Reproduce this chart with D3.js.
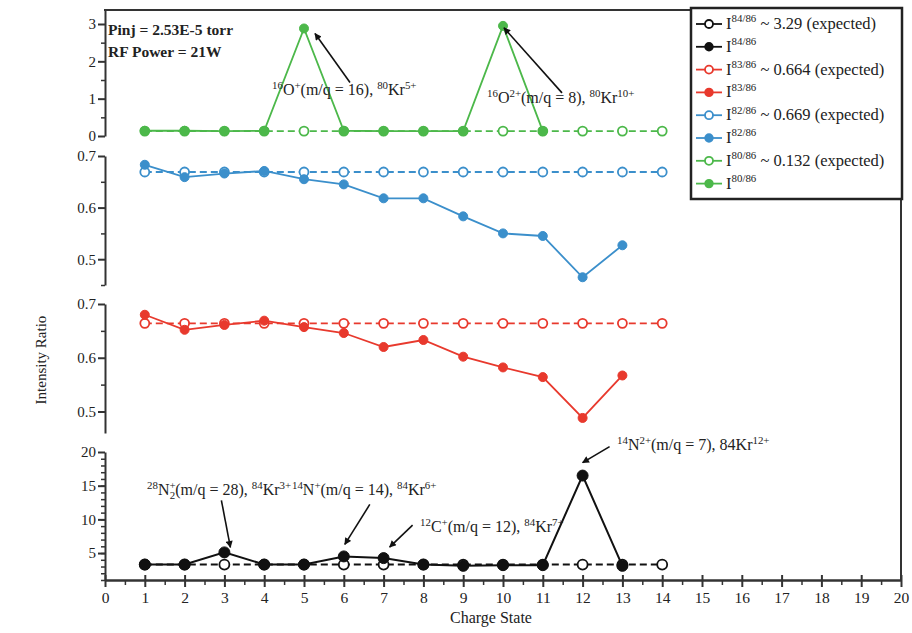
<!DOCTYPE html>
<html>
<head>
<meta charset="utf-8">
<script src="https://cdn.jsdelivr.net/npm/d3@7/dist/d3.min.js"></script>
<style>
  body { margin: 0; background: #fff; }
  svg text { font-family: "Liberation Serif", "Times New Roman", serif; fill: #222; }
</style>
</head>
<body>
<div id="chart"></div>
<script>
// charge states
const chargeExp = [1, 2, 3, 4, 5, 6, 7, 8, 9, 10, 11, 12, 13, 14];
const chargeMeas = [1, 2, 3, 4, 5, 6, 7, 8, 9, 10, 11, 12, 13];
const chargeGreen = [1, 2, 3, 4, 5, 6, 7, 8, 9, 10, 11];

// measured intensity ratios
const i8486 = [3.3, 3.3, 5.1, 3.3, 3.3, 4.5, 4.25, 3.3, 3.1, 3.2, 3.2, 16.5, 3.1];
const i8386 = [0.680, 0.652, 0.661, 0.669, 0.657, 0.646, 0.620, 0.633, 0.602, 0.582, 0.564, 0.488, 0.567];
const i8286 = [0.683, 0.659, 0.666, 0.671, 0.655, 0.645, 0.618, 0.618, 0.583, 0.550, 0.545, 0.465, 0.527];
const i8086 = [0.14, 0.14, 0.13, 0.14, 2.88, 0.14, 0.13, 0.13, 0.13, 2.95, 0.13];

// expected ratios
const exp8486 = 3.29;
const exp8386 = 0.664;
const exp8286 = 0.669;
const exp8086 = 0.132;

const xTicks = d3.range(0, 21);

const black = '#111', red = '#e8392d', blue = '#3b8fcb', green = '#4cb84a';

const svg = d3.select('#chart').append('svg')
  .attr('width', 912)
  .attr('height', 633);

svg.append('defs').append('marker')
  .attr('id', 'arrow')
  .attr('viewBox', '0 0 10 10')
  .attr('refX', 9).attr('refY', 5)
  .attr('markerWidth', 8).attr('markerHeight', 7)
  .attr('markerUnits', 'userSpaceOnUse')
  .attr('orient', 'auto')
  .append('path')
    .attr('d', 'M0,0L10,5L0,10z')
    .attr('fill', '#111');

const x = d3.scaleLinear().domain([0, 20]).range([105, 901]);

const panels = [
  { name: 'green', y: d3.scaleLinear().domain([0, 3.375]).range([136, 10]),
    major: [0, 1, 2, 3], minor: [0.5, 1.5, 2.5], fmt: d3.format('d') },
  { name: 'blue', y: d3.scaleLinear().domain([0.45, 0.7]).range([285, 156]),
    major: [0.5, 0.6, 0.7], minor: [0.45, 0.55, 0.65], fmt: d3.format('.1f') },
  { name: 'red', y: d3.scaleLinear().domain([0.46, 0.7]).range([433, 304]),
    major: [0.5, 0.6, 0.7], minor: [0.55, 0.65], fmt: d3.format('.1f') },
  { name: 'black', y: d3.scaleLinear().domain([1, 20]).range([580, 452]),
    major: [5, 10, 15, 20], minor: d3.range(1, 20), fmt: d3.format('d') }
];

// y axes
panels.forEach(p => {
  const gMinor = svg.append('g').attr('transform', `translate(${x(0)},0)`)
    .call(d3.axisLeft(p.y).tickValues(p.minor).tickSize(4).tickSizeOuter(0).tickFormat(''));
  gMinor.select('.domain').attr('stroke', '#333').attr('stroke-width', 2);
  gMinor.selectAll('.tick line').attr('stroke', '#333').attr('stroke-width', 1.5);

  const g = svg.append('g').attr('transform', `translate(${x(0)},0)`)
    .call(d3.axisLeft(p.y).tickValues(p.major).tickSize(7).tickSizeOuter(0).tickFormat(p.fmt));
  g.select('.domain').remove();
  g.selectAll('.tick line').attr('stroke', '#333').attr('stroke-width', 2);
  g.selectAll('.tick text')
    .attr('x', -9)
    .style('font-size', '15px')
    .style('font-family', '"Liberation Serif", serif')
    .attr('fill', '#333');
});

const yG = panels[0].y, yB = panels[1].y, yR = panels[2].y, yK = panels[3].y;

// frame: top and right
svg.append('line')
  .attr('x1', x(0) - 1).attr('x2', x(20) + 1)
  .attr('y1', yG.range()[1]).attr('y2', yG.range()[1])
  .attr('stroke', '#333').attr('stroke-width', 2);
svg.append('line')
  .attr('x1', x(20)).attr('x2', x(20))
  .attr('y1', yG.range()[1]).attr('y2', yK.range()[0])
  .attr('stroke', '#333').attr('stroke-width', 2);

// x axis
const xMinor = svg.append('g').attr('transform', `translate(0,${yK.range()[0]})`)
  .call(d3.axisBottom(x).tickValues(d3.range(0.5, 20, 1)).tickSize(5).tickSizeOuter(0).tickFormat(''));
xMinor.select('.domain').attr('stroke', '#333').attr('stroke-width', 2.5);
xMinor.selectAll('.tick line').attr('stroke', '#333').attr('stroke-width', 1.5);

const xAxis = svg.append('g').attr('transform', `translate(0,${yK.range()[0]})`)
  .call(d3.axisBottom(x).tickValues(xTicks).tickSize(7).tickSizeOuter(0).tickFormat(d3.format('d')));
xAxis.select('.domain').remove();
xAxis.selectAll('.tick line').attr('y1', -5).attr('stroke', '#333').attr('stroke-width', 2);
xAxis.selectAll('.tick text')
  .attr('y', 12)
  .style('font-size', '15.5px')
  .style('font-family', '"Liberation Serif", serif')
  .attr('fill', '#333');

// axis titles
svg.append('text')
  .attr('x', x(10) - 12).attr('y', 623)
  .attr('text-anchor', 'middle')
  .style('font-size', '16px')
  .text('Charge State');

svg.append('text')
  .attr('transform', 'translate(46,360) rotate(-90)')
  .attr('text-anchor', 'middle')
  .style('font-size', '15px')
  .text('Intensity Ratio');

// series
function drawSeries(xs, ys, y, color, opts) {
  const pts = xs.map((c, i) => [c, ys[i]]);
  const line = d3.line().x(d => x(d[0])).y(d => y(d[1]));
  svg.append('path')
    .datum(pts)
    .attr('d', line)
    .attr('fill', 'none')
    .attr('stroke', color)
    .attr('stroke-width', opts.width || 1.8)
    .attr('stroke-dasharray', opts.open ? '7,4' : null);
  svg.append('g').selectAll('circle')
    .data(pts)
    .join('circle')
      .attr('cx', d => x(d[0]))
      .attr('cy', d => y(d[1]))
      .attr('r', opts.r)
      .attr('fill', opts.open ? '#fff' : color)
      .attr('stroke', color)
      .attr('stroke-width', opts.open ? 1.8 : 1);
}

drawSeries(chargeExp, chargeExp.map(() => exp8086), yG, green, { open: true, r: 4.5 });
drawSeries(chargeGreen, i8086, yG, green, { r: 4.5 });
drawSeries(chargeExp, chargeExp.map(() => exp8286), yB, blue, { open: true, r: 4.5 });
drawSeries(chargeMeas, i8286, yB, blue, { r: 4.5 });
drawSeries(chargeExp, chargeExp.map(() => exp8386), yR, red, { open: true, r: 4.5 });
drawSeries(chargeMeas, i8386, yR, red, { r: 4.5 });
drawSeries(chargeExp, chargeExp.map(() => exp8486), yK, black, { open: true, r: 5, width: 2 });
drawSeries(chargeMeas, i8486, yK, black, { r: 5.5, width: 2 });

// rich text with super/subscripts
function richText(px, py, parts, size, weight, supScale) {
  const ss = supScale || 0.64;
  const t = svg.append('text')
    .attr('x', px).attr('y', py)
    .style('font-size', size + 'px')
    .style('font-weight', weight || 'normal');
  let shift = 0;
  const add = (txt, s, fs, dx) => {
    const ts = t.append('tspan').attr('dy', s - shift).style('font-size', fs + 'px').text(txt);
    if (dx) ts.attr('dx', dx);
    shift = s;
  };
  parts.forEach(p => {
    if (typeof p === 'string') add(p, 0, size);
    else if (p.sup) add(p.sup, -size * 0.4, size * ss);
    else if (p.sub) add(p.sub, size * 0.25, size * ss);
    else if (p.supsub) {
      add(p.supsub[0], -size * 0.4, size * ss);
      add(p.supsub[1], size * 0.25, size * ss, -size * 0.36);
    }
  });
  if (shift !== 0) t.append('tspan').attr('dy', -shift).text('');
  return t;
}

richText(108, 35, ['Pinj = 2.53E-5 torr'], 15.5, 'bold');
richText(108, 57, ['RF Power = 21W'], 15.5, 'bold');

// annotations: arrow head anchored to data point, tail as pixel offset
const notes = [
  { y: yG, cx: 5, cy: i8086[4], hx: 11, hy: 5, tx: 35, ty: 49,
    label: [{ sup: '16' }, 'O', { sup: '+' }, '(m/q = 16), ', { sup: '80' }, 'Kr', { sup: '5+' }],
    lx: 272, ly: 95 },
  { y: yG, cx: 10, cy: i8086[9], hx: 1, hy: 2, tx: 58, ty: 65,
    label: [{ sup: '16' }, 'O', { sup: '2+' }, '(m/q = 8), ', { sup: '80' }, 'Kr', { sup: '10+' }],
    lx: 487, ly: 103 },
  { y: yK, cx: 3, cy: i8486[2], hx: 6, hy: -5, tx: -9, ty: -47,
    label: [{ sup: '28' }, 'N', { supsub: ['+', '2'] }, '(m/q = 28), ', { sup: '84' }, 'Kr', { sup: '3+' }],
    lx: 147, ly: 495 },
  { y: yK, cx: 6, cy: i8486[5], hx: 1, hy: -12, tx: 25, ty: -40,
    label: [{ sup: '14' }, 'N', { sup: '+' }, '(m/q = 14), ', { sup: '84' }, 'Kr', { sup: '6+' }],
    lx: null, ly: 495 },
  { y: yK, cx: 7, cy: i8486[6], hx: 6, hy: -11, tx: 23, ty: -22,
    label: [{ sup: '12' }, 'C', { sup: '+' }, '(m/q = 12), ', { sup: '84' }, 'Kr', { sup: '7+' }],
    lx: 420, ly: 532 },
  { y: yK, cx: 12, cy: i8486[11], hx: 0, hy: -13, tx: 27, ty: -16,
    label: [{ sup: '14' }, 'N', { sup: '2+' }, '(m/q = 7), 84Kr', { sup: '12+' }],
    lx: 617, ly: 450 }
];

let prevEnd = 0;
notes.forEach(n => {
  const hx = x(n.cx) + n.hx, hy = n.y(n.cy) + n.hy;
  svg.append('line')
    .attr('x1', hx + n.tx).attr('y1', hy + n.ty)
    .attr('x2', hx).attr('y2', hy)
    .attr('stroke', '#111')
    .attr('stroke-width', 1.6)
    .attr('marker-end', 'url(#arrow)');
  const lx = n.lx === null ? prevEnd - 5 : n.lx;
  const t = richText(lx, n.ly, n.label, 16, 'normal', 0.68);
  prevEnd = lx + t.node().getComputedTextLength();
});

// legend
const legendRows = [
  { color: black, open: true, label: [' ~ 3.29 (expected)'], sup: '84/86' },
  { color: black, open: false, label: [], sup: '84/86' },
  { color: red, open: true, label: [' ~ 0.664 (expected)'], sup: '83/86' },
  { color: red, open: false, label: [], sup: '83/86' },
  { color: blue, open: true, label: [' ~ 0.669 (expected)'], sup: '82/86' },
  { color: blue, open: false, label: [], sup: '82/86' },
  { color: green, open: true, label: [' ~ 0.132 (expected)'], sup: '80/86' },
  { color: green, open: false, label: [], sup: '80/86' }
];

const lg = svg.append('g');
lg.append('rect')
  .attr('x', 691).attr('y', 8)
  .attr('width', 211).attr('height', 191)
  .attr('fill', '#fff')
  .attr('stroke', '#222')
  .attr('stroke-width', 2.5);

legendRows.forEach((r, i) => {
  const ry = 24 + i * 22.8;
  lg.append('line')
    .attr('x1', 696).attr('x2', 722)
    .attr('y1', ry).attr('y2', ry)
    .attr('stroke', r.color)
    .attr('stroke-width', 1.8);
  lg.append('circle')
    .attr('cx', 709).attr('cy', ry)
    .attr('r', r.open ? 4 : 3.8)
    .attr('fill', r.open ? '#fff' : r.color)
    .attr('stroke', r.color)
    .attr('stroke-width', 1.8);
  richText(726, ry + 5, ['I', { sup: r.sup }].concat(r.label), 16.5, 'normal', 0.66);
});
</script>
</body>
</html>
